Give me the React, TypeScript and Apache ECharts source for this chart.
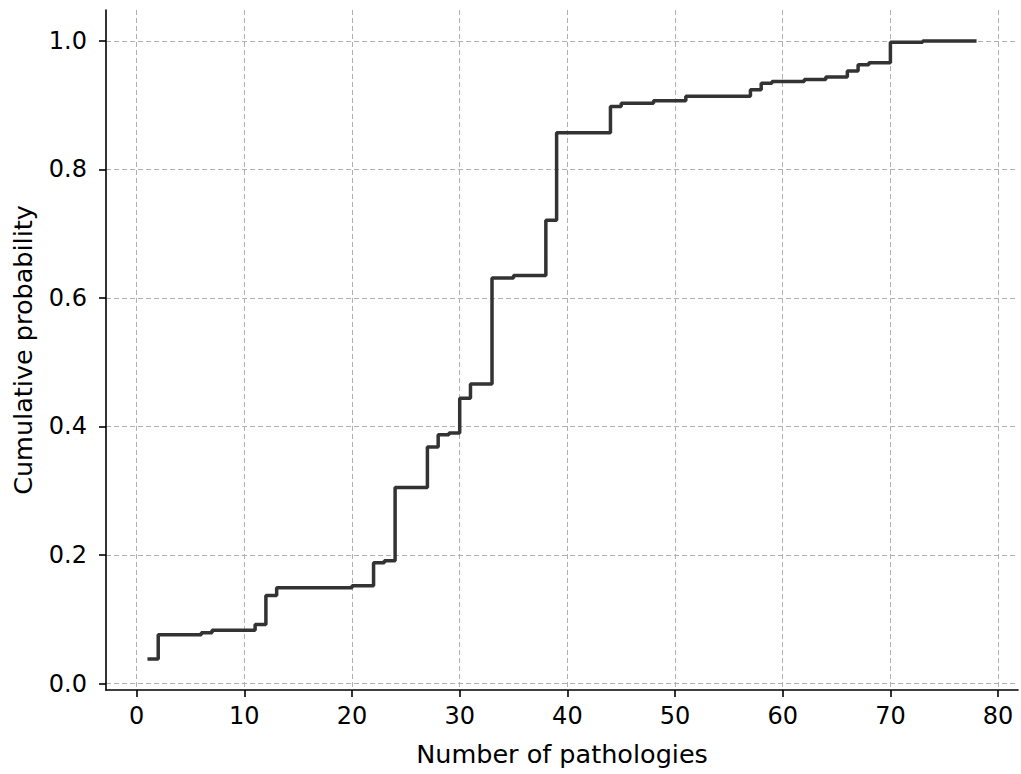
import React, { useEffect, useRef } from "react";
import * as echarts from "echarts";

// Empirical CDF: number of pathologies vs cumulative probability (post-step)
const pathologies = [1, 2, 6, 7, 11, 12, 13, 20, 22, 23, 24, 27, 28, 29, 30, 31, 33, 35, 38, 39, 44, 45, 48, 51, 57, 58, 59, 62, 64, 66, 67, 68, 70, 73, 78];
const cumProb = [0.038, 0.076, 0.079, 0.083, 0.092, 0.137, 0.149, 0.152, 0.188, 0.191, 0.305, 0.368, 0.387, 0.390, 0.444, 0.466, 0.631, 0.635, 0.721, 0.857, 0.898, 0.903, 0.907, 0.914, 0.924, 0.934, 0.937, 0.940, 0.944, 0.953, 0.963, 0.966, 0.998, 1.0, 1.0];
const xTicks = [0, 10, 20, 30, 40, 50, 60, 70, 80];
const yTicks = [0, 0.2, 0.4, 0.6, 0.8, 1.0];

const FONT = "DejaVu Sans";

export default function App() {
  const ref = useRef<HTMLDivElement>(null);
  useEffect(() => {
    const chart = echarts.init(ref.current!, null, { renderer: "svg" });
    const data = pathologies.map((x, i) => [x, cumProb[i]]);
    chart.setOption({
      animation: false,
      backgroundColor: "#ffffff",
      grid: { left: 106, right: 3, top: 10, bottom: 84, containLabel: false },
      xAxis: {
        type: "value",
        min: -2.85,
        max: 81.85,
        name: "Number of pathologies",
        nameLocation: "middle",
        nameGap: 51,
        nameTextStyle: { fontFamily: FONT, fontSize: 25.5, color: "#000" },
        axisLine: { show: true, onZero: false, lineStyle: { color: "#000", width: 1.6 } },
        axisTick: { show: true, length: 7, lineStyle: { color: "#000", width: 1.6 }, customValues: xTicks },
        axisLabel: {
          customValues: xTicks,
          fontFamily: FONT,
          fontSize: 24,
          color: "#000",
          margin: 14,
          formatter: (v: number) => String(v),
        },
        splitLine: { show: true, lineStyle: { color: "#b0b0b0", width: 1, type: [5, 3] } },
      },
      yAxis: {
        type: "value",
        min: -0.0101,
        max: 1.0481,
        name: "Cumulative probability",
        nameLocation: "middle",
        nameGap: 70,
        nameRotate: 90,
        nameTextStyle: { fontFamily: FONT, fontSize: 25.5, color: "#000" },
        axisLine: { show: true, onZero: false, lineStyle: { color: "#000", width: 1.6 } },
        axisTick: { show: true, length: 7, lineStyle: { color: "#000", width: 1.6 }, customValues: yTicks },
        axisLabel: {
          customValues: yTicks,
          fontFamily: FONT,
          fontSize: 24,
          color: "#000",
          margin: 19,
          formatter: (v: number) => v.toFixed(1),
        },
        splitLine: { show: true, lineStyle: { color: "#b0b0b0", width: 1, type: [5, 3] } },
      },
      series: [
        {
          type: "line",
          step: "end",
          data,
          showSymbol: false,
          symbol: "none",
          lineStyle: { color: "#333333", width: 3.5 },
          z: 3,
        },
      ],
    });
    return () => chart.dispose();
  }, []);
  return (
    <div
      ref={ref}
      style={{ position: "fixed", left: 0, top: 0, width: 1021, height: 774, background: "#fff" }}
    />
  );
}
